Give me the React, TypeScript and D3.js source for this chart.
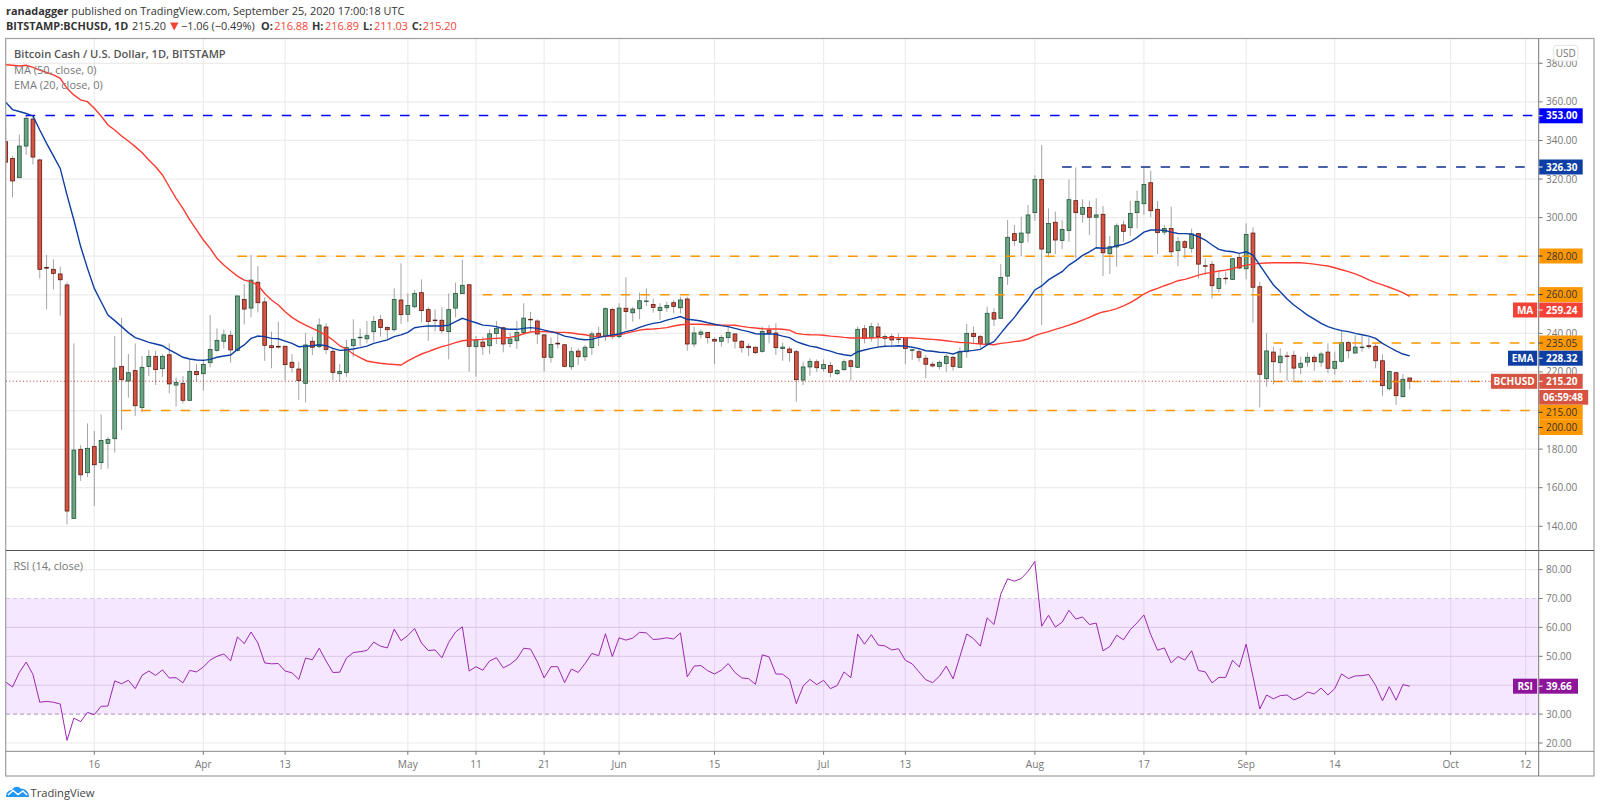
import * as d3 from "d3";

// daily bars, first bar is 2020-03-03, last is 2020-09-25
const firstDay = new Date(Date.UTC(2020, 2, 3));

const opens = [
  339.4, 330.7, 320.7, 337.1, 351.1, 329.9, 274.2, 273.2, 270.8, 265.1,
  144.1, 179.9, 167.8, 181.3, 173, 183, 185.4, 222.9, 215.3, 220.7,
  201.5, 222.9, 228.1, 221.7, 228.9, 213.2, 214.1, 205.3, 220.3, 219.1,
  224.8, 231.2, 235.9, 239, 231.2, 257.6, 253.1, 266.5, 256.3, 233.6,
  233.3, 233.3, 225, 221.5, 214.1, 235.9, 233.1, 243.3, 230.7, 219.1,
  219.8, 233.6, 237.9, 237.2, 240.9, 247.1, 243, 241.9, 257.3, 249.9,
  253.8, 261.1, 252.3, 246.9, 246.8, 240.9, 253.1, 260.6, 265.2, 233.1,
  235.5, 233.6, 240, 242.9, 234.8, 236.2, 240.5, 247.3, 246.4, 239.2,
  227.6, 234.9, 234.1, 222.7, 230.8, 227.9, 232.6, 240, 238.3, 252.4,
  238.3, 253, 250.7, 252.8, 256.7, 255, 251.8, 253.3, 255.9, 253.3,
  257.8, 234.5, 239.5, 240.5, 236.9, 235.9, 237.8, 239.7, 235.9, 233.3,
  232.8, 230.7, 241.7, 240.2, 232.1, 231.9, 230.5, 215.8, 222.6, 225.3,
  221.7, 223.4, 219.1, 221.2, 225.8, 222.4, 242.4, 237.9, 243.3, 237.4,
  238.3, 237.1, 237.9, 231.4, 230.5, 227.1, 224, 222.9, 224.4, 227.6,
  222.4, 230.5, 240, 238.3, 234.8, 250.7, 247.8, 269.7, 291.7, 287.2,
  292, 302.6, 319.8, 281.8, 297.6, 288.2, 293.4, 308.8, 301.7, 305.3,
  300.2, 301.7, 281.3, 284.8, 296.2, 294.8, 302.6, 307.2, 318.1, 304.3,
  292.5, 294.4, 282.9, 287.5, 284.1, 291.7, 275.1, 275.8, 263.3, 268.6,
  268, 279.4, 273.5, 292, 264.2, 216.5, 230.3, 224.8, 228.3, 228.6,
  222.4, 225.1, 227.6, 225.1, 230.3, 221.9, 225.5, 235.2, 229.8, 232.8,
  233.6, 233.3, 225.8, 211.3, 219.6, 207.2, 216.88,
];
const highs = [
  346, 332, 343, 353, 353, 330.5, 280.6, 278.4, 274.6, 266.5,
  234.8, 182, 193.3, 189.4, 198, 186.4, 238.6, 248.1, 229.3, 234.8,
  228.3, 231.4, 231, 229.3, 234.8, 217.2, 217.9, 226.5, 224.1, 226.7,
  249.5, 242.6, 242, 241.4, 259.4, 265.6, 280.6, 274.9, 258.7, 240.9,
  246, 233.3, 229.3, 225.3, 240.3, 238.3, 247.8, 245.2, 232.2, 224.1,
  236.6, 247.3, 242.6, 246.4, 249, 249.5, 243.5, 263.3, 276.3, 260.7,
  262.5, 268, 253.5, 252.4, 253.5, 260.7, 266.3, 278, 265.2, 238.6,
  238.3, 242.1, 246.4, 243.5, 240.4, 246.4, 255.6, 251.2, 247.3, 239.6,
  237.9, 240, 234.5, 232.8, 232.2, 234, 240.9, 243.5, 253.5, 253.3,
  255.6, 269, 253.8, 261.1, 263.3, 258, 255.6, 256.4, 257.3, 259,
  259, 243.5, 242.1, 240.8, 237.9, 239.2, 243.5, 240, 236.6, 234.8,
  233.1, 243.5, 244.3, 245.2, 235.2, 233.1, 231.4, 225.3, 227, 226.5,
  226.5, 225.3, 221.5, 226.5, 226.5, 243.5, 244.3, 245.5, 245.5, 239.5,
  239.7, 240, 237.9, 231.9, 232.2, 228.8, 225.3, 225.9, 229.3, 228.3,
  232.8, 244.9, 243.5, 239.2, 253.8, 253, 275.9, 298.8, 296.2, 300.5,
  306.5, 322, 337.6, 304.8, 303.1, 298.8, 319.8, 326, 309.5, 308.8,
  310, 306, 290.5, 297, 298.4, 308.8, 314, 326, 324.3, 308.6,
  296.2, 305.7, 290, 288.4, 294.4, 292, 278.9, 277.5, 272, 272,
  278.9, 281.5, 297, 295, 266.8, 240, 233.1, 232.2, 230.5, 231,
  227.9, 230, 228.8, 230.5, 234.8, 230.5, 241.2, 236, 239.1, 238.8,
  237.9, 234.8, 229.1, 220.7, 220.2, 218.9, 216.89,
];
const lows = [
  325, 310.5, 320.7, 332.5, 327.6, 268.5, 252.5, 262.8, 249.2, 141,
  143.9, 163.5, 165.4, 150.5, 169.5, 169.9, 178.2, 189.9, 206.7, 197.2,
  199.1, 217.9, 213.2, 217.5, 208.9, 202, 203.7, 205, 215, 210.3,
  222.4, 230.5, 232.2, 224.8, 230.5, 244.7, 248.3, 250.9, 225.8, 221.9,
  232.2, 215.8, 219.6, 205.5, 204.2, 228.8, 232.2, 229.3, 215.8, 215,
  217.5, 227.9, 233.4, 234.8, 235.7, 238.3, 236.9, 240.9, 244.9, 246,
  253, 245.7, 236.2, 240.9, 240, 226.5, 248.3, 260.7, 220.2, 217.5,
  228.8, 229.3, 234.5, 230.2, 232.8, 231.9, 240.4, 240.9, 234.5, 220.2,
  224.8, 232.2, 222.4, 221, 223.6, 225.7, 228.8, 233.4, 236, 236.9,
  237.4, 242.1, 246.1, 247.3, 254.2, 250.7, 246.9, 251.2, 250.4, 250.4,
  231, 232.8, 237.4, 234.8, 224.1, 233.1, 234.8, 232.2, 230, 228.3,
  229.3, 230, 234.8, 228.8, 225.8, 225.3, 204.6, 213.2, 218, 220.1,
  220.1, 217.2, 218.4, 220.7, 215.5, 222, 234.8, 235.7, 232.8, 233.1,
  232.8, 234.8, 224, 226.2, 225.3, 216.7, 222.4, 221.3, 220.1, 220.7,
  222.4, 227.4, 234.8, 232.2, 234.8, 243.8, 247.8, 265.1, 285.3, 280.1,
  287.2, 298.4, 244.3, 279.4, 281.1, 283.6, 287.5, 278.9, 297.4, 291,
  284.1, 269.7, 270.8, 274.6, 287.5, 290.5, 294.4, 301.4, 300.2, 281.1,
  291, 280.1, 274.9, 278.9, 281.8, 268.5, 270.2, 258.1, 261.3, 265.4,
  267.7, 273.2, 268, 245.5, 201.6, 212.4, 213.6, 219.6, 215.5, 215.5,
  218.8, 222.7, 220.6, 222.7, 219.3, 218.6, 224.8, 227, 229.6, 230.5,
  231.9, 221.9, 207.7, 210.3, 203, 206.8, 211.03,
];
const closes = [
  328.7, 319, 337.1, 351.5, 331.4, 273.2, 273.8, 271.1, 267.8, 147.9,
  179.5, 166.7, 180.4, 171.9, 184.5, 185, 222, 216, 219.6, 202.5,
  222.4, 228.1, 221.2, 228.1, 213.8, 214.6, 205.3, 220.3, 218.6, 223.9,
  231.7, 236.4, 239.2, 231.4, 259.4, 252.6, 267.6, 255.9, 233.8, 232.6,
  232.9, 223.8, 222.4, 215.5, 234, 232.8, 244.3, 231.7, 219.8, 220.3,
  232.6, 236.9, 238, 238.8, 246.2, 243, 241.9, 257.6, 249.7, 254.5,
  260.7, 251.8, 246.1, 246.6, 241.4, 252.3, 260.7, 264.9, 233.3, 236.6,
  233.1, 239.8, 242.6, 234.5, 237.1, 240.5, 247.9, 247.2, 239.7, 227.6,
  234.3, 234.5, 222.9, 230.5, 227.9, 232.8, 239.7, 238.3, 252.8, 238.3,
  253.1, 251.3, 252.6, 256.9, 256.8, 253.5, 253.5, 254.5, 254, 257.3,
  234.5, 240.2, 240.7, 237.8, 236, 237.9, 240.5, 236, 232.6, 232.6,
  230, 241, 240.2, 232.6, 232.9, 230, 216, 222.6, 225.5, 222.2,
  223.9, 219.8, 220.8, 225.3, 222.9, 242.1, 237.4, 243.5, 238.3, 238.4,
  236.6, 236.9, 232.2, 231.5, 227.6, 224, 223.1, 225, 228.1, 222.9,
  230.5, 240, 238.3, 234.8, 250.4, 247.4, 269, 289.8, 288.2, 292,
  301.4, 319.8, 283.7, 297, 288.4, 293.9, 309.3, 302.6, 305.2, 300.2,
  301.4, 281.8, 284.9, 295.8, 292.9, 302.2, 308.4, 317.2, 303.6, 292.2,
  294.4, 282.3, 287.5, 284.6, 291.5, 275.9, 275, 264.7, 268.4, 268.5,
  278.7, 273.9, 291.3, 263.9, 218.8, 230.9, 225.3, 228.2, 228.1, 222,
  224.5, 227.6, 225.3, 229.3, 221.9, 225.5, 235.2, 231, 232.9, 232.9,
  233.1, 225.8, 212.9, 220.3, 207.7, 216.2, 215.2,
];
const ema20 = [
  359.8, 356, 355, 354, 352.7, 345.4, 338.5, 332, 325.5, 311.7,
  298.8, 285, 273.7, 263.3, 256.4, 249.5, 246.6, 243.5, 240.4, 237.8,
  236.6, 235.3, 234.5, 233.6, 231.4, 229.6, 227.6, 226.7, 226.2, 226,
  226.5, 227.6, 228.3, 228.8, 231.7, 234, 237.4, 238.6, 238.3, 237.4,
  237.2, 236, 234.8, 233.1, 233.3, 233.6, 234.1, 233.6, 232.2, 231.2,
  231.4, 231.9, 232.6, 233.4, 234.8, 235.7, 236.6, 238.3, 239.2, 240.5,
  242.9, 243.5, 243.8, 243.8, 243.8, 244.3, 246.1, 247.8, 246.6, 245.5,
  244.3, 244, 243.5, 242.4, 242.1, 242.1, 242.6, 243, 242.6, 241.7,
  240.9, 240, 238.6, 237.9, 237.1, 236.7, 236.9, 237.9, 238.6, 239.2,
  239.7, 240.9, 241.7, 243.1, 244.3, 245.2, 245.7, 246.9, 247.8, 248.7,
  247.3, 246.9, 246.4, 245.5, 244.7, 244, 243.5, 242.6, 241.7, 240.9,
  239.8, 239.7, 239.8, 239.5, 238.6, 237.8, 235.7, 234.5, 233.4, 232.8,
  231.7, 230.8, 229.6, 228.9, 228.4, 230.5, 231.4, 232.2, 232.9, 233.3,
  233.4, 233.6, 233.4, 232.8, 232.1, 231, 230.7, 230.2, 230, 229.3,
  230.5, 230.8, 231.2, 231.7, 234, 235.7, 240, 244.3, 248.3, 253,
  257.3, 262.5, 264.6, 267.7, 269.9, 272, 275.4, 277.7, 280.4, 282.3,
  284.4, 284.1, 284.3, 285.4, 286.1, 287.5, 289.8, 292.5, 293.6, 293.6,
  293.4, 292.5, 291.8, 291.7, 291.5, 290.1, 288.4, 285.8, 283.5, 282.7,
  282.3, 281.5, 282.3, 280.6, 275.4, 270.2, 265.1, 261.6, 257.8, 254.7,
  252.1, 249.5, 247.4, 245.2, 243.5, 242.3, 241.4, 240.9, 240, 239.3,
  238.6, 237.4, 234.8, 232.8, 230.9, 229.3, 228.32,
];
const ma50 = [
  379.3, 379, 378.6, 379, 377.9, 376.5, 375.3, 374, 372.2, 367,
  363.6, 361, 360.1, 356.7, 352.7, 348, 345.4, 342.3, 339.7, 336.8,
  333.8, 329.9, 326.4, 322.1, 316, 310, 304.8, 298.8, 293.6, 288.4,
  284.1, 278.9, 275.4, 272.5, 269.7, 267.6, 266.8, 265, 260.7, 257.3,
  254.7, 251.2, 248.3, 246.1, 244.3, 242.6, 240.9, 239.1, 236.6, 233.6,
  231.9, 229.3, 227.4, 225.7, 225, 224.5, 224.1, 223.9, 223.6, 225.7,
  227.6, 229.3, 230.5, 231.9, 233.1, 234, 235.2, 236.2, 236.6, 236.7,
  236.9, 237.2, 237.4, 237.6, 237.9, 238.6, 239.8, 240.7, 240.9, 240.9,
  240.7, 240.5, 240.5, 240.2, 239.7, 239.3, 238.6, 238.3, 238.5, 238.6,
  239.2, 240, 240.9, 241.7, 242.1, 242.3, 242.6, 243, 243.8, 244.5,
  244.7, 244.7, 244.7, 244.5, 244.3, 244.3, 244.3, 244.2, 243.6, 243.1,
  242.8, 242.4, 242.3, 242.3, 242.1, 241.7, 240, 239.5, 239.3, 239.2,
  239, 238.6, 238.3, 237.9, 237.6, 237.6, 237.6, 237.6, 237.8, 237.8,
  237.8, 237.8, 237.8, 237.6, 237.4, 237.1, 236.9, 236.6, 236.2, 235.7,
  235.3, 235.2, 234.8, 234.5, 234.3, 234.1, 234.8, 235.2, 235.7, 236.2,
  237.1, 238.8, 240, 240.9, 242.1, 243.1, 244.3, 245.5, 246.9, 248.3,
  249.9, 251.1, 251.8, 252.8, 254.2, 255.9, 258, 260.4, 262.1, 263.3,
  264.7, 265.9, 267.3, 268, 269, 270.2, 271.1, 271.6, 272.3, 272.8,
  273.5, 274.6, 275.4, 275.9, 276.3, 276.5, 276.6, 276.6, 276.6, 276.6,
  276.6, 276.3, 275.9, 275.4, 274.9, 274, 273, 272, 270.8, 269.4,
  267.7, 266.3, 265.1, 263.9, 262.5, 261.1, 259.24,
];
const rsi14 = [
  41.1, 39.4, 44.4, 48, 43.7, 34.1, 34.4, 34.1, 33.5, 20.9,
  28.6, 27.4, 30.6, 29.8, 32.7, 32.8, 41.5, 40.5, 41.7, 38.8,
  43.4, 44.9, 43.4, 45.3, 42.5, 42.6, 40.8, 45.1, 44.6, 46.3,
  48.7, 50, 50.8, 48.4, 56.7, 54.4, 58.4, 54.6, 47.7, 47.4,
  47.5, 44.9, 44.3, 42, 49.4, 48.8, 52.8, 48.4, 44.4, 44.5,
  49.4, 51.3, 51.6, 52, 54.9, 53.5, 52.9, 59.4, 55.4, 57.2,
  59.6, 54.6, 52, 52.2, 49.5, 54.8, 58.4, 60.2, 44.9, 46.4,
  45.2, 48.4, 49.5, 46, 47.2, 49.1, 52.8, 52.5, 48.1, 42.5,
  46.4, 46.4, 40.9, 45.6, 44.4, 47.5, 51, 50.2, 57.8, 49.9,
  56.4, 55.6, 56.3, 58.3, 58.1, 55.8, 56, 56.4, 56, 58.1,
  42.9, 46.6, 46.8, 45, 43.9, 45.2, 47.5, 44.4, 42.5, 42.3,
  40.3, 50.5, 49.8, 43.9, 43.8, 42, 33.6, 39.7, 42, 40.2,
  41.7, 38.8, 39.9, 44.6, 42.6, 57.7, 54.2, 57.5, 53.9, 53.6,
  52.2, 52.6, 48.6, 47.4, 44.6, 41.9, 40.9, 43.1, 46.6, 42.2,
  49.9, 57.7, 56.1, 53.5, 63.3, 61, 71.5, 76.8, 76, 76.9,
  79.4, 82.8, 60.4, 64.2, 60.1, 61.8, 65.9, 62.9, 63.6, 61,
  61.5, 51.9, 53.4, 57.3, 55.7, 59.2, 61.6, 64.3, 57.5, 52.1,
  52.9, 47.7, 49.9, 48.7, 51.9, 45.1, 44.6, 40.8, 42.7, 42.7,
  48.6, 46.3, 54.2, 43, 31.8, 36.6, 35.3, 36.4, 36.6, 34.9,
  35.9, 37.6, 37, 39, 36.6, 38.8, 43.9, 42.3, 43.2, 43.3,
  43.7, 39.9, 34.6, 39.5, 34.8, 40.2, 39.66,
];

const priceTicks = [380, 360, 340, 320, 300, 280, 260, 240, 220, 200, 180, 160, 140];
const priceTickLabels = [380, 360, 340, 320, 300, 240, 220, 180, 160, 140];
const rsiTicks = [80, 70, 60, 50, 40, 30, 20];
const rsiTickLabels = [80, 70, 60, 50, 30, 20];
const dateTicks = ["2020-03-16", "2020-04-01", "2020-04-13", "2020-05-01", "2020-05-11", "2020-05-21", "2020-06-01", "2020-06-15", "2020-07-01", "2020-07-13", "2020-08-01", "2020-08-17", "2020-09-01", "2020-09-14", "2020-10-01", "2020-10-12"];
const dateLabels = ["16", "Apr", "13", "May", "11", "21", "Jun", "15", "Jul", "13", "Aug", "17", "Sep", "14", "Oct", "12"];

// horizontal levels drawn on the chart
const levelPrices = [353, 326.3, 280, 260, 235.05, 215, 200];
const levelStarts = ["2020-03-03", "2020-08-05", "2020-04-06", "2020-05-12", "2020-09-05", "2020-09-05", "2020-03-20"];
const levelColors = ["#0000ff", "#0d2b8f", "#ff9800", "#ff9800", "#ff9800", "#ff9800", "#ff9800"];

const FONT = "'Open Sans', sans-serif";
const W = 1600, H = 805;
const L = 6, R = 1594, AX = 1538.7, TOP = 38.5, SEP = 550.5, RSI_B = 751.3, BOT = 776;

const x = d3.scaleUtc()
  .domain([new Date("2020-03-16T00:00Z"), new Date("2020-10-12T00:00Z")])
  .range([94.3, 1525.6]);
const y = d3.scaleLinear().domain([380, 160]).range([63.3, 487.7]);
const yR = d3.scaleLinear().domain([70, 30]).range([598.5, 714.1]);

const days = closes.map((_, i) => d3.utcDay.offset(firstDay, i));
const xi = (i: number) => x(days[i]);

const maLine = d3.line<number>().x((_, i) => xi(i)).y((v) => y(v));
const rsiLine = d3.line<number>().x((_, i) => xi(i)).y((v) => yR(v));

// price tag on the axis, with the optional name box to its left
function Tag({ cy, text, fill, color = "#fff", name, nameX, bold = true, right = 1582.7 }: {
  cy: number; text: string; fill: string; color?: string; name?: string; nameX?: number; bold?: boolean; right?: number;
}) {
  return (
    <g fontFamily={FONT} fontSize={10} fontWeight={bold ? 700 : 400}>
      <rect x={AX + 0.5} y={cy - 7.5} width={right - AX - 0.5} height={15} fill={fill} />
      <line x1={AX} x2={AX + 4} y1={cy} y2={cy} stroke={color} strokeWidth={1} />
      <text x={1546} y={cy + 3.5} fill={color}>{text}</text>
      {name && (
        <g>
          <rect x={nameX} y={cy - 7.5} width={AX - 1.5 - nameX!} height={15} fill={fill} />
          <text x={(nameX! + AX - 1.5) / 2} y={cy + 3.5} fill="#fff" textAnchor="middle">{name}</text>
        </g>
      )}
    </g>
  );
}

export default function App() {
  const up = "#6ba583", dn = "#d75442";
  const red = "#f44336";
  return (
    <svg width={W} height={H} viewBox={`0 0 ${W} ${H}`} style={{ position: "absolute", left: 0, top: 0, background: "#fff" }}>
      <defs>
        <clipPath id="main"><rect x={L} y={TOP} width={AX - L} height={SEP - TOP} /></clipPath>
        <clipPath id="sub"><rect x={L} y={SEP} width={AX - L} height={RSI_B - SEP} /></clipPath>
      </defs>

      {/* header lines */}
      <text x={6} y={15} fontFamily={FONT} fontSize={10.9} fill="#333">
        <tspan fontWeight={700}>ranadagger</tspan> published on TradingView.com, September 25, 2020 17:00:18 UTC
      </text>
      <g fontFamily={FONT} fontSize={10.9} fill="#333">
        <text x={6} y={30} fontWeight={700}>BITSTAMP:BCHUSD, 1D</text>
        <text x={132} y={30}>215.20</text>
        <path d="M170 22.5 L178.5 22.5 L174.2 30.5 Z" fill={red} />
        <text x={181} y={30}>−1.06 (−0.49%)</text>
        <text x={261} y={30} fontWeight={700}>O:</text>
        <text x={274.3} y={30} fill={red}>216.88</text>
        <text x={312} y={30} fontWeight={700}>H:</text>
        <text x={325} y={30} fill={red}>216.89</text>
        <text x={363} y={30} fontWeight={700}>L:</text>
        <text x={374} y={30} fill={red}>211.03</text>
        <text x={411.7} y={30} fontWeight={700}>C:</text>
        <text x={422.7} y={30} fill={red}>215.20</text>
      </g>

      {/* grid */}
      <g stroke="#ececec" strokeWidth={1.2}>
        {dateTicks.map((d) => (
          <line key={d} x1={x(new Date(d))} x2={x(new Date(d))} y1={TOP} y2={RSI_B} />
        ))}
        {priceTicks.map((t) => <line key={t} x1={L} x2={AX} y1={y(t)} y2={y(t)} />)}
      </g>

      {/* rsi pane */}
      <rect x={L} width={AX - L} y={yR(70)} height={yR(30) - yR(70)} fill="#9915ff" fillOpacity={0.1} />
      <g stroke="#ececec" strokeWidth={1.2}>
        <line x1={L} x2={AX} y1={yR(80)} y2={yR(80)} />
        <line x1={L} x2={AX} y1={yR(20)} y2={yR(20)} />
      </g>
      <g stroke="#d9c6e6" strokeWidth={1}>
        <line x1={L} x2={AX} y1={yR(60)} y2={yR(60)} />
        <line x1={L} x2={AX} y1={yR(50)} y2={yR(50)} />
        <line x1={L} x2={AX} y1={yR(40)} y2={yR(40)} />
      </g>
      <line x1={L} x2={AX} y1={yR(70)} y2={yR(70)} stroke="#d9c6e6" strokeDasharray="4 3" />
      <line x1={L} x2={AX} y1={yR(30)} y2={yR(30)} stroke="#a98fb8" strokeDasharray="4 3" />
      <path d={rsiLine(rsi14)!} fill="none" stroke="#9c27b0" strokeWidth={1} clipPath="url(#sub)" />

      {/* candles */}
      <g clipPath="url(#main)">
        {days.map((_, i) => (
          <line key={i} x1={xi(i)} x2={xi(i)} y1={y(highs[i])} y2={y(lows[i])} stroke="#737375" strokeOpacity={0.65} strokeWidth={1} />
        ))}
        {days.map((_, i) => {
          const top = y(Math.max(opens[i], closes[i]));
          const bottom = y(Math.min(opens[i], closes[i]));
          const isUp = closes[i] >= opens[i];
          return (
            <rect key={i} x={xi(i) - 1.9} y={top} width={3.8} height={Math.max(bottom - top, 0.6)}
              fill={isUp ? up : dn} stroke={isUp ? "#225437" : "#5b1a13"} strokeWidth={0.8} />
          );
        })}

        {/* horizontal levels */}
        {levelPrices.map((p, i) => (
          <line key={p} x1={i === 0 ? L : x(new Date(levelStarts[i]))} x2={AX - 4} y1={y(p)} y2={y(p)}
            stroke={levelColors[i]} strokeWidth={1.5} strokeDasharray="9.5 10.2" />
        ))}

        <path d={maLine(ma50)!} fill="none" stroke="#ff3b30" strokeWidth={1.4} />
        <path d={maLine(ema20)!} fill="none" stroke="#0d3ea3" strokeWidth={1.4} />
        <line x1={L} x2={AX} y1={y(215.2)} y2={y(215.2)} stroke="#b5392c" strokeWidth={1} strokeDasharray="1 2.4" />
      </g>

      {/* frame and axis lines */}
      <rect x={5.7} y={TOP} width={R - 5.7} height={BOT - TOP} fill="none" stroke="#9e9e9e" strokeWidth={1.2} />
      <line x1={L} x2={R} y1={SEP} y2={SEP} stroke="#555" strokeWidth={1} />
      <line x1={L} x2={R} y1={RSI_B} y2={RSI_B} stroke="#888" strokeWidth={1} />
      <line x1={AX} x2={AX} y1={TOP} y2={BOT} stroke="#777" strokeWidth={1} />

      {/* date axis */}
      <g fontFamily={FONT} fontSize={10.2} fill="#777" textAnchor="middle">
        {dateTicks.map((d, i) => (
          <g key={d}>
            <line x1={x(new Date(d))} x2={x(new Date(d))} y1={RSI_B} y2={RSI_B + 3.5} stroke="#777" />
            <text x={x(new Date(d))} y={768.2}>{dateLabels[i]}</text>
          </g>
        ))}
      </g>

      {/* price and rsi axis labels */}
      <g fontFamily={FONT} fontSize={10} fill="#777">
        {priceTicks.map((t) => (
          <line key={t} x1={AX} x2={AX + 4} y1={y(t)} y2={y(t)} stroke="#777" />
        ))}
        {priceTickLabels.map((t) => (
          <text key={t} x={1546} y={y(t) + 3.5}>{t.toFixed(2)}</text>
        ))}
        {rsiTicks.map((t) => (
          <line key={t} x1={AX} x2={AX + 4} y1={yR(t)} y2={yR(t)} stroke="#777" />
        ))}
        {rsiTickLabels.map((t) => (
          <text key={t} x={1546} y={yR(t) + 3.5}>{t.toFixed(2)}</text>
        ))}
      </g>

      {/* axis tags */}
      <Tag cy={115.8} text="353.00" fill="#0000ff" />
      <Tag cy={167} text="326.30" fill="#0d3ea3" />
      <Tag cy={256} text="280.00" fill="#ff9800" color="#333" bold={false} />
      <Tag cy={294.6} text="260.00" fill="#ff9800" color="#333" bold={false} />
      <Tag cy={310} text="259.24" fill={red} name="MA" nameX={1513} />
      <Tag cy={343} text="235.05" fill="#ff9800" color="#333" bold={false} />
      <Tag cy={358.2} text="228.32" fill="#0d3ea3" name="EMA" nameX={1508} />
      <Tag cy={381.3} text="215.20" fill="#d75442" name="BCHUSD" nameX={1491} />
      <g fontFamily={FONT} fontSize={10} fontWeight={700}>
        <rect x={AX + 0.5} y={390} width={49} height={14.7} fill="#d75442" />
        <text x={1543} y={400.9} fill="#fff">06:59:48</text>
      </g>
      <Tag cy={412.3} text="215.00" fill="#ff9800" color="#333" bold={false} />
      <Tag cy={427.5} text="200.00" fill="#ff9800" color="#333" bold={false} />
      <Tag cy={yR(39.66)} text="39.66" fill="#8e1599" name="RSI" nameX={1513} right={1578} />

      {/* currency box */}
      <rect x={1553.7} y={45.3} width={24.3} height={15.7} rx={3} fill="#fff" stroke="#e3e3e3" />
      <text x={1565.8} y={56.8} fontFamily={FONT} fontSize={10} fill="#777" textAnchor="middle">USD</text>

      {/* pane titles */}
      <g fontFamily={FONT}>
        <text x={14} y={58} fontSize={11.1} fontWeight={600} fill="#555">Bitcoin Cash / U.S. Dollar, 1D, BITSTAMP</text>
        <text x={14} y={73.5} fontSize={11} fill="#777">MA (50, close, 0)</text>
        <text x={14} y={88.5} fontSize={11} fill="#777">EMA (20, close, 0)</text>
        <text x={13.5} y={570} fontSize={11} fill="#777">RSI (14, close)</text>
      </g>

      {/* logo */}
      <path d="M6 797 C6 792 9 790 12 790 C14 786 19 786 21 789 C25 788 29 792 29 797 Z" fill="#2196f3" />
      <path d="M8 795 L13 790.5 L18 794.5 L23 791 L27 795" fill="none" stroke="#fff" strokeWidth={1.5} />
      <text x={30.5} y={796.5} fontFamily={FONT} fontSize={11.2} fill="#444">TradingView</text>
    </svg>
  );
}
